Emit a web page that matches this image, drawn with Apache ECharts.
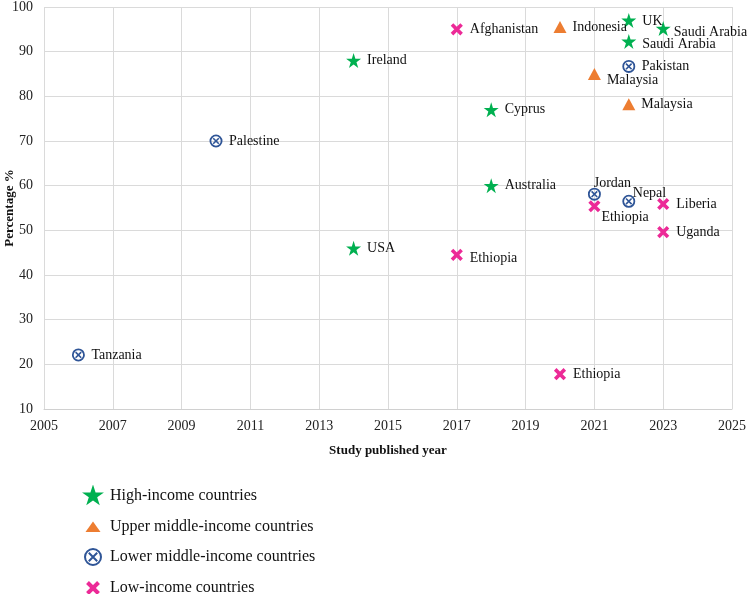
<!DOCTYPE html>
<html>
<head>
<meta charset="utf-8">
<script src="https://cdn.jsdelivr.net/npm/echarts@6/dist/echarts.min.js"></script>
<style>
  html, body { margin: 0; padding: 0; background: #fff; }
  #chart { width: 750px; height: 594px; }
</style>
</head>
<body>
<div id="chart"></div>
<script>
// 数据
const highYears = [2014, 2014, 2018, 2018, 2022, 2022, 2023];
const highValues = [88, 46, 77, 60, 97, 92.3, 95.2];
const highNames = ['Ireland', 'USA', 'Cyprus', 'Australia', 'UK', 'Saudi Arabia', 'Saudi Arabia'];

const upperYears = [2020, 2021, 2022];
const upperValues = [95.5, 85, 78.2];
const upperNames = ['Indonesia', 'Malaysia', 'Malaysia'];

const lowerYears = [2006, 2010, 2021, 2022, 2022];
const lowerValues = [22.1, 70, 58.1, 86.7, 56.5];
const lowerNames = ['Tanzania', 'Palestine', 'Jordan', 'Pakistan', 'Nepal'];

const lowYears = [2017, 2017, 2020, 2021, 2023, 2023];
const lowValues = [95, 44.5, 17.8, 55.4, 55.9, 49.6];
const lowNames = ['Afghanistan', 'Ethiopia', 'Ethiopia', 'Ethiopia', 'Liberia', 'Uganda'];

const groupNames = ['High-income countries', 'Upper middle-income countries', 'Lower middle-income countries', 'Low-income countries'];

const FONT = '"Liberation Serif", "Times New Roman", serif';
const GREEN = '#00B050';
const ORANGE = '#ED7D31';
const BLUE = '#2F5597';
const PINK = '#EC2A97';

// 标签位置微调
const labelTweaks = {
    'Malaysia|2021': { position: 'right', offset: [0, 6] },
    'Jordan|2021': { position: 'top', offset: [18, 9] },
    'Ethiopia|2021': { position: 'right', offset: [-6, 11] },
    'Nepal|2022': { position: 'right', offset: [-9, -8] },
    'UK|2022': { position: 'right', offset: [0, 1] },
    'Saudi Arabia|2023': { position: 'right', offset: [-3, 4] },
    'Saudi Arabia|2022': { position: 'right', offset: [0, 3] },
    'Ethiopia|2017': { position: 'right', offset: [0, 3] }
};

function svgUri(svg) {
    return 'image://data:image/svg+xml;utf8,' + encodeURIComponent(svg);
}

const starPath = 'path://M50,0 L61.2,34.5 L97.6,34.5 L68.2,55.9 L79.4,90.5 L50,69.1 L20.6,90.5 L31.8,55.9 L2.4,34.5 L38.8,34.5 Z';

const circleXSvg = '<svg xmlns="http://www.w3.org/2000/svg" width="14" height="14" viewBox="0 0 14 14">' +
    '<circle cx="7" cy="7" r="5.6" fill="none" stroke="' + BLUE + '" stroke-width="1.8"/>' +
    '<path d="M4.2,4.2 L9.8,9.8 M9.8,4.2 L4.2,9.8" stroke="' + BLUE + '" stroke-width="1.6"/></svg>';

const crossSvg = '<svg xmlns="http://www.w3.org/2000/svg" width="14" height="14" viewBox="0 0 14 14">' +
    '<path d="M2.2,2.2 L11.8,11.8 M11.8,2.2 L2.2,11.8" stroke="' + PINK + '" stroke-width="3.6" stroke-linecap="butt"/></svg>';

// 图例图标 (24x22)
const legendStar = '<svg xmlns="http://www.w3.org/2000/svg" width="24" height="22" viewBox="0 0 24 22">' +
    '<path transform="translate(0.5,-0.5) scale(0.23)" d="M50,0 L61.2,34.5 L97.6,34.5 L68.2,55.9 L79.4,90.5 L50,69.1 L20.6,90.5 L31.8,55.9 L2.4,34.5 L38.8,34.5 Z" fill="' + GREEN + '"/></svg>';
const legendTri = '<svg xmlns="http://www.w3.org/2000/svg" width="24" height="22" viewBox="0 0 24 22">' +
    '<path d="M12,5.5 L19.5,16 L4.5,16 Z" fill="' + ORANGE + '"/></svg>';
const legendCircleX = '<svg xmlns="http://www.w3.org/2000/svg" width="24" height="22" viewBox="0 0 24 22">' +
    '<circle cx="12" cy="11" r="8" fill="none" stroke="' + BLUE + '" stroke-width="2"/>' +
    '<path d="M7.8,6.8 L16.2,15.2 M16.2,6.8 L7.8,15.2" stroke="' + BLUE + '" stroke-width="2"/></svg>';
const legendCross = '<svg xmlns="http://www.w3.org/2000/svg" width="24" height="22" viewBox="0 0 24 22">' +
    '<path d="M6.5,5.5 L17.5,16.5 M17.5,5.5 L6.5,16.5" stroke="' + PINK + '" stroke-width="4"/></svg>';

const legendIcons = [legendStar, legendTri, legendCircleX, legendCross];
const legendTops = [485, 516, 546, 577];

function buildData(years, values, names) {
    return years.map((y, i) => {
        const item = { value: [y, values[i]], name: names[i] };
        const tweak = labelTweaks[names[i] + '|' + y];
        if (tweak) item.label = tweak;
        return item;
    });
}

function makeSeries(name, years, values, names, symbol, size, color) {
    return {
        name: name,
        type: 'scatter',
        symbol: symbol,
        symbolSize: size,
        itemStyle: { color: color, opacity: 1 },
        label: {
            show: true,
            position: 'right',
            distance: 6,
            formatter: '{b}',
            fontFamily: FONT,
            fontSize: 14,
            color: '#111'
        },
        emphasis: { disabled: true },
        data: buildData(years, values, names)
    };
}

const chart = echarts.init(document.getElementById('chart'), null, { renderer: 'canvas' });

// 每个图例单独放一个组件，避免竖排换列
const legends = groupNames.map((g, i) => ({
    orient: 'vertical',
    left: 81,
    top: legendTops[i],
    padding: 0,
    itemWidth: 24,
    itemHeight: 22,
    itemGap: 0,
    textStyle: { fontFamily: FONT, fontSize: 16, color: '#111' },
    data: [{ name: g, icon: svgUri(legendIcons[i]) }]
}));

const option = {
    animation: false,
    textStyle: { fontFamily: FONT },
    grid: { left: 44, right: 18, top: 7, bottom: 185, containLabel: false, outerBoundsMode: 'none' },
    xAxis: {
        type: 'value',
        min: 2005,
        max: 2025,
        interval: 2,
        name: 'Study published year',
        nameLocation: 'middle',
        nameGap: 35,
        nameMoveOverlap: false,
        nameTextStyle: { fontFamily: FONT, fontSize: 13, fontWeight: 'bold', color: '#111' },
        axisLine: { show: true, lineStyle: { color: '#d0d0d0' } },
        axisTick: { show: false },
        axisLabel: { fontFamily: FONT, fontSize: 14, color: '#222', margin: 10, formatter: v => String(v) },
        splitLine: { show: true, lineStyle: { color: '#dadada' } }
    },
    yAxis: {
        type: 'value',
        min: 10,
        max: 100,
        interval: 10,
        name: 'Percentage %',
        nameLocation: 'middle',
        nameGap: 28,
        nameMoveOverlap: false,
        nameTextStyle: { fontFamily: FONT, fontSize: 13, fontWeight: 'bold', color: '#111' },
        axisLine: { show: false },
        axisTick: { show: false },
        axisLabel: { fontFamily: FONT, fontSize: 14, color: '#222', margin: 11 },
        splitLine: { show: true, lineStyle: { color: '#dadada' } }
    },
    legend: legends,
    series: [
        makeSeries(groupNames[0], highYears, highValues, highNames, starPath, 15, GREEN),
        makeSeries(groupNames[1], upperYears, upperValues, upperNames, 'triangle', [13, 12], ORANGE),
        makeSeries(groupNames[2], lowerYears, lowerValues, lowerNames, svgUri(circleXSvg), 14, BLUE),
        makeSeries(groupNames[3], lowYears, lowValues, lowNames, svgUri(crossSvg), 14, PINK)
    ]
};

chart.setOption(option);
</script>
</body>
</html>
